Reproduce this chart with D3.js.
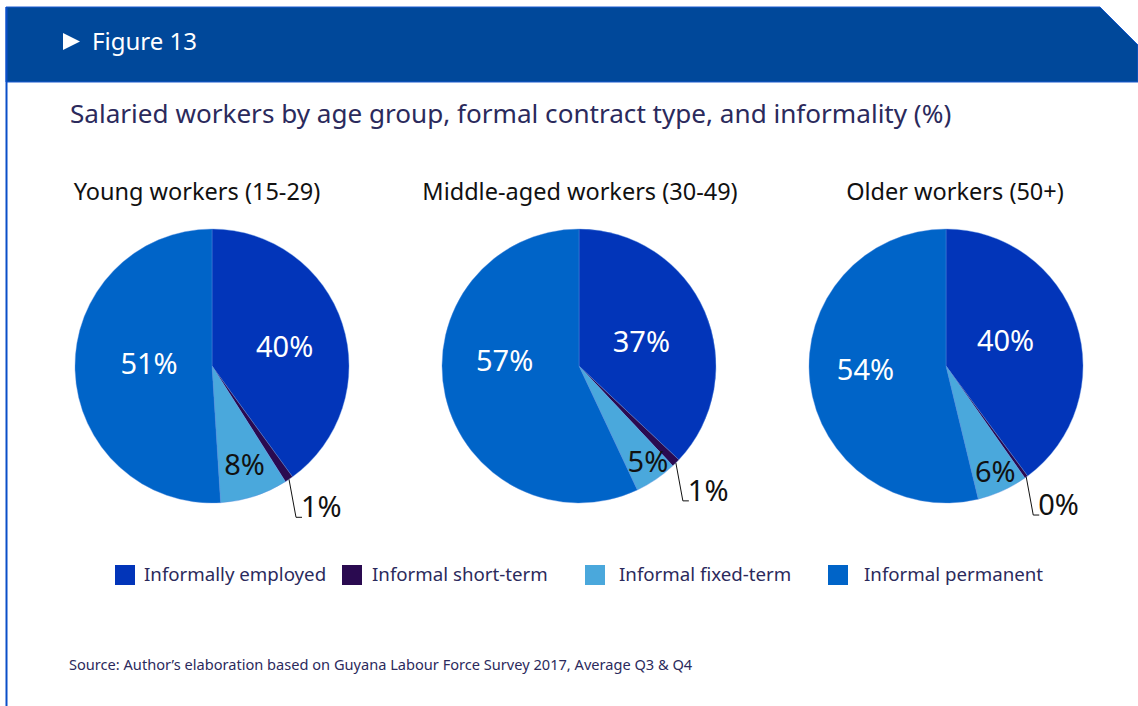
<!DOCTYPE html>
<html>
<head>
<meta charset="utf-8">
<script src="https://cdn.jsdelivr.net/npm/d3@7"></script>
<style>
  html, body { margin: 0; padding: 0; background: #ffffff; }
  svg { display: block; font-family: "Noto Sans", "Open Sans", sans-serif; }
</style>
</head>
<body>
<svg id="chart" width="1138" height="706"></svg>
<script>
// Age groups and contract categories
const groups = ["Young workers (15-29)", "Middle-aged workers (30-49)", "Older workers (50+)"];
const categories = ["Informally employed", "Informal short-term", "Informal fixed-term", "Informal permanent"];

// Share of salaried workers (%) per category, one array per age group
const youngValues = [40, 1, 8, 51];
const middleValues = [37, 1, 5, 57];
const olderValues = [40, 0.4, 6, 54];

const colors = ["#0235b9", "#2a0a50", "#4aa8dc", "#0064c8"];

const svg = d3.select("#chart");
const W = 1138, H = 706;

// Header band with the clipped top-right corner
svg.append("path")
  .attr("d", "M6,7 L1100,7 L1138,45 L1138,82 L6,82 Z")
  .attr("fill", "#00489a")
  .attr("stroke", "#1a5bd0")
  .attr("stroke-width", 1);

// Left frame rule
svg.append("line")
  .attr("x1", 6.5).attr("x2", 6.5).attr("y1", 7).attr("y2", H)
  .attr("stroke", "#0a4fc8").attr("stroke-width", 2);

// Header label
svg.append("path")
  .attr("d", "M63,33 L80,41.5 L63,50 Z")
  .attr("fill", "#ffffff");
svg.append("text")
  .attr("x", 92).attr("y", 50)
  .attr("fill", "#ffffff")
  .attr("font-size", 24)
  .text("Figure 13");

// Chart title
svg.append("text")
  .attr("x", 70).attr("y", 123)
  .attr("fill", "#2b2a5c")
  .attr("font-size", 26.1)
  .text("Salaried workers by age group, formal contract type, and informality (%)");

const color = d3.scaleOrdinal().domain(categories).range(colors);

const pie = d3.pie().sort(null).value(d => d.value);
const R = 137;
const arc = d3.arc().innerRadius(0).outerRadius(R);
const bigLabelArc = d3.arc().innerRadius(68).outerRadius(68);
const smallLabelArc = d3.arc().innerRadius(112).outerRadius(112);
const fmt = v => d3.format(".0f")(v) + "%";

const seriesList = [youngValues, middleValues, olderValues];
const centers = d3.scalePoint().domain(groups).range([212, 946]);
const titleShift = [-15, 1, 9];
// Fine placement of the in-slice labels, per pie: [dx, dy] for each category
const labelNudge = [
  [[8, 0], [0, 0], [-2, -9], [5, -6]],
  [[0, 1], [0, 0], [6, 2], [-8, -21]],
  [[-5, -5], [0, 0], [3, 2], [-13, -6]]
];
const cy = 366;

seriesList.forEach((vals, gi) => {
  const g = groups[gi];
  const cx = centers(g);
  const data = categories.map((c, i) => ({ cat: c, value: vals[i] }));
  const arcs = pie(data);

  svg.append("text")
    .attr("x", cx + titleShift[gi]).attr("y", 200)
    .attr("text-anchor", "middle")
    .attr("fill", "#111111")
    .attr("font-size", 23.5)
    .text(g);

  const gp = svg.append("g").attr("transform", `translate(${cx},${cy})`);

  gp.selectAll("path.slice")
    .data(arcs)
    .join("path")
    .attr("class", "slice")
    .attr("d", arc)
    .attr("fill", d => color(d.data.cat))
    .attr("stroke", "#5a8fe0")
    .attr("stroke-width", 0.4);

  arcs.forEach((a, i) => {
    const [nx, ny] = labelNudge[gi][i];
    if (i === 0 || i === 3) {
      const [x, y] = bigLabelArc.centroid(a);
      gp.append("text")
        .attr("x", x + nx).attr("y", y + ny)
        .attr("text-anchor", "middle")
        .attr("dominant-baseline", "central")
        .attr("fill", "#ffffff")
        .attr("font-size", 29)
        .text(fmt(a.data.value));
    } else if (i === 2) {
      const [x, y] = smallLabelArc.centroid(a);
      gp.append("text")
        .attr("x", x + nx).attr("y", y + ny)
        .attr("text-anchor", "middle")
        .attr("dominant-baseline", "central")
        .attr("fill", "#111111")
        .attr("font-size", 29)
        .text(fmt(a.data.value));
    } else {
      // Leader line for the thin short-term slice
      const mid = (a.startAngle + a.endAngle) / 2;
      const ex = Math.sin(mid) * R, ey = -Math.cos(mid) * R;
      const bx = ex + 7, by = ey + 38;
      gp.append("polyline")
        .attr("points", `${ex},${ey} ${bx},${by} ${bx + 6},${by}`)
        .attr("fill", "none")
        .attr("stroke", "#111111")
        .attr("stroke-width", 1);
      gp.append("text")
        .attr("x", bx + 5).attr("y", by)
        .attr("fill", "#111111")
        .attr("font-size", 29)
        .text(fmt(a.data.value));
    }
  });
});

// Legend
const legendX = [115, 342, 585, 828];
const legendGap = [29, 30, 34, 36];
const legend = svg.append("g");
categories.forEach((c, i) => {
  legend.append("rect")
    .attr("x", legendX[i]).attr("y", 565)
    .attr("width", 20).attr("height", 20)
    .attr("fill", color(c));
  legend.append("text")
    .attr("x", legendX[i] + legendGap[i]).attr("y", 581)
    .attr("fill", "#2b2a5c")
    .attr("font-size", 18.7)
    .text(c);
});

// Source note
svg.append("text")
  .attr("x", 69).attr("y", 670)
  .attr("fill", "#2b2a5c")
  .attr("font-size", 14.6)
  .text("Source: Author’s elaboration based on Guyana Labour Force Survey 2017, Average Q3 & Q4");
</script>
</body>
</html>
